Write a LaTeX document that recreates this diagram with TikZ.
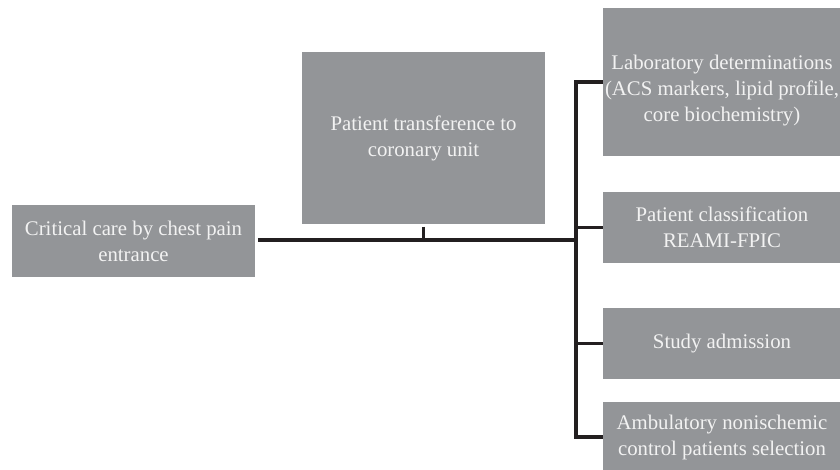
\documentclass[tikz,border=0pt]{standalone}
\usepackage{fontspec}
\setmainfont{Liberation Serif}
\definecolor{boxgray}{RGB}{147,149,152}
\definecolor{txtwhite}{RGB}{242,242,242}
\definecolor{linedark}{RGB}{35,31,32}
\begin{document}
\begin{tikzpicture}[x=0.75pt,y=-0.75pt,
  gbox/.style={rectangle,fill=boxgray,inner sep=0pt,align=center,text=txtwhite,
    font=\fontsize{15.6}{19.5}\selectfont},
  gtext/.style={inner sep=0pt,align=center,text=txtwhite,font=\fontsize{15.6}{19.5}\selectfont},
  conn/.style={draw=linedark,line width=2.3pt}]
\useasboundingbox (0,0) rectangle (840,470);
\fill[white] (0,0) rectangle (840,470);
\node[gbox,minimum width=182.25pt,minimum height=54pt] (crit) at (133.5,241) {Critical care by chest pain\\entrance};
\node[gbox,minimum width=182.25pt,minimum height=129pt] (trans) at (423.5,138) {Patient transference to\\coronary unit};
\node[gbox,minimum width=178.5pt,minimum height=111pt] (lab) at (722,82) {};
\node[gtext] (labtxt) at (722,91) {Laboratory determinations\\(ACS markers, lipid profile,\\core biochemistry)};
\node[gbox,minimum width=178.5pt,minimum height=53.25pt] (cls) at (722,227.5) {Patient classification\\REAMI-FPIC};
\node[gbox,minimum width=178.5pt,minimum height=53.25pt] (adm) at (722,343.5) {Study admission};
\node[gbox,minimum width=178.5pt,minimum height=52.5pt] (amb) at (722,437) {Ambulatory nonischemic\\control patients selection};
\coordinate (bus) at (576,240);
\draw[conn] ([xshift=2pt]crit.east |- bus) -- (bus);
\draw[conn] ([yshift=-2pt]trans.south) -- (trans.south |- bus);
\draw[conn,line join=miter] (lab.west) -- (lab.west -| bus) -- (amb.west -| bus) -- (amb.west);
\draw[conn] (cls.west -| bus) -- (cls.west);
\draw[conn] (adm.west -| bus) -- (adm.west);
\end{tikzpicture}
\end{document}
